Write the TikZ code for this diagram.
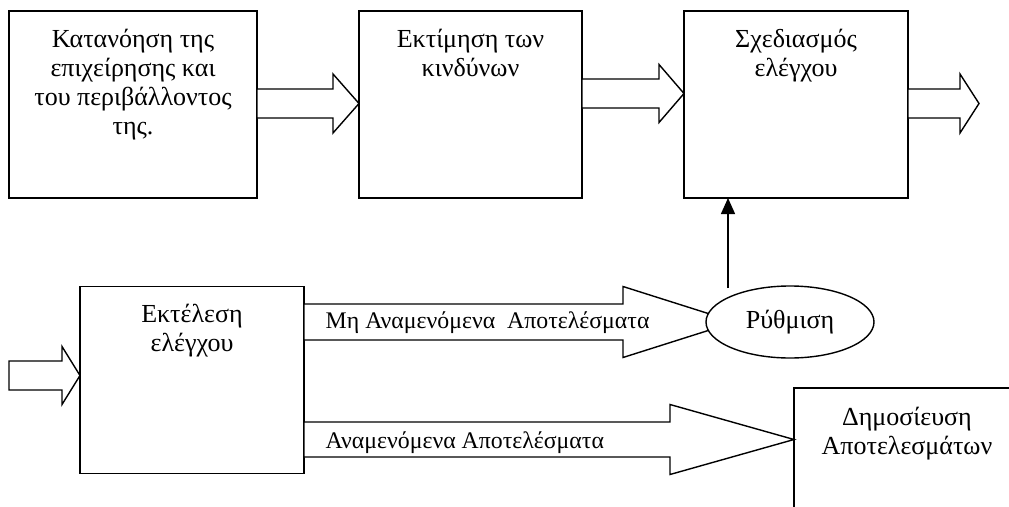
\documentclass[tikz,border=0pt]{standalone}
\usepackage{fontspec}
\setmainfont{Liberation Serif}
\usetikzlibrary{arrows.meta,shapes.geometric,calc}
\newcommand\blockarrow[5]{%
  \draw[fill=white] ($(#1)+(0,-#3)$) -- ($(#2)+(-#5,-#3)$) -- ($(#2)+(-#5,-#4)$) -- (#2)
    -- ($(#2)+(-#5,#4)$) -- ($(#2)+(-#5,#3)$) -- ($(#1)+(0,#3)$) -- cycle;}
\begin{document}
\begin{tikzpicture}[x=1pt,y=-1pt,line width=1.4pt,
  box/.style={draw,rectangle,inner sep=0pt,outer sep=0pt,minimum height=187pt,minimum width=#1},
  btext/.style={anchor=base,align=center,inner sep=0pt,font=\fontsize{26}{29}\selectfont},
  ltext/.style={anchor=base west,inner sep=0pt,font=\fontsize{23.8}{26}\selectfont}]
\useasboundingbox (0,0) rectangle (1009,506);
\clip (0,0) rectangle (1009,506);
% boxes
\node[box=248pt] (b1) at (133,104.5) {};
\node[box=223pt] (b2) at (470.5,104.5) {};
\node[box=224pt] (b3) at (796,104.5) {};
\node[box=224pt] (b4) at (192,380) {};
\node[box=226pt,minimum height=188pt] (b5) at (907,482) {};
% box texts (anchored at the baseline of their last line)
\node[btext] (t1) at (133,134) {Κατανόηση της\\επιχείρησης και\\του περιβάλλοντος\\της.};
\node[btext] (t2) at (470.5,76) {Εκτίμηση των\\κινδύνων};
\node[btext] (t3) at (796,76) {Σχεδιασμός\\ελέγχου};
\node[btext] (t4) at (192,351) {Εκτέλεση\\ελέγχου};
\node[btext] (t5) at (907,454) {Δημοσίευση\\Αποτελεσμάτων};
% block arrows
\coordinate (a1s) at (b1.east |- 0,103.5);
\coordinate (a1t) at (b2.west |- 0,103.5);
\blockarrow{a1s}{a1t}{14.5}{29.5}{26}
\coordinate (a2s) at (b2.east |- 0,93.5);
\coordinate (a2t) at (b3.west |- 0,93.5);
\blockarrow{a2s}{a2t}{14.5}{29}{25}
\coordinate (a3s) at (b3.east |- 0,103.5);
\coordinate (a3t) at (979,103.5);
\blockarrow{a3s}{a3t}{14.5}{29.5}{19}
\coordinate (a0s) at (9,375.5);
\coordinate (a0t) at (b4.west |- 0,375.5);
\blockarrow{a0s}{a0t}{14.5}{29}{18}
\coordinate (a4s) at (b4.east |- 0,322);
\coordinate (a4t) at (735,322);
\blockarrow{a4s}{a4t}{18}{35.5}{112}
\coordinate (a5s) at (b4.east |- 0,439.5);
\coordinate (a5t) at (b5.west |- 0,439.5);
\blockarrow{a5s}{a5t}{17.5}{35}{124}
% arrow labels
\node[ltext] (l1) at (325,328) {Μη Αναμενόμενα\ \ Αποτελέσματα};
\node[ltext] (l2) at (325,448) {Αναμενόμενα Αποτελέσματα};
% ellipse
\node[draw,fill=white,ellipse,inner sep=0pt,minimum width=168pt,minimum height=72pt,
  font=\fontsize{26}{29}\selectfont] (rz) at (790,322) {Ρύθμιση};
% vertical arrow
\coordinate (vs) at (728,288);
\draw[-{Triangle[length=16pt,width=14pt]}] (vs) -- (vs |- b3.south);
\end{tikzpicture}
\end{document}
